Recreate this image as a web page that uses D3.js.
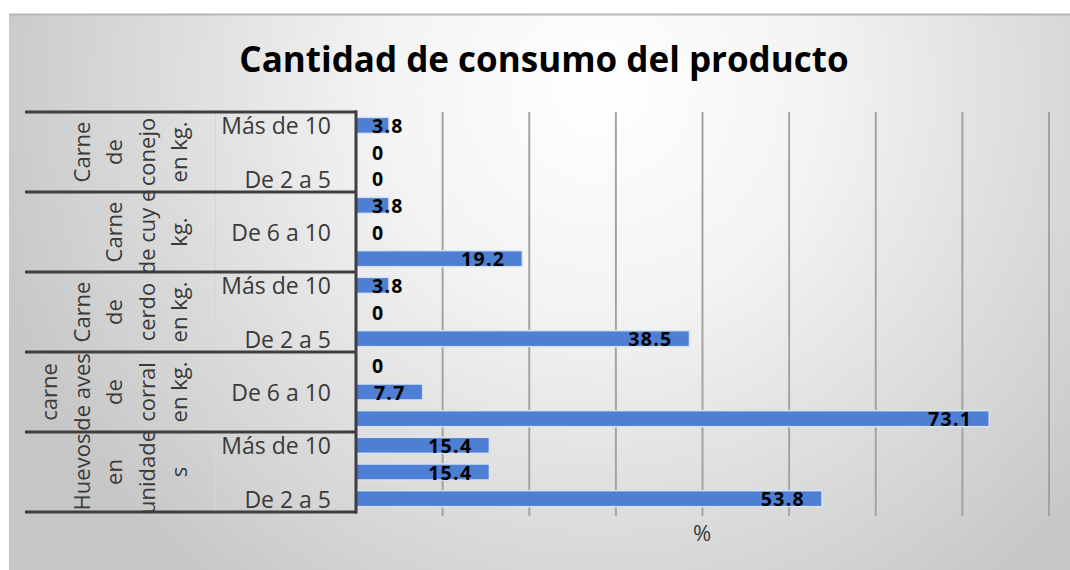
<!DOCTYPE html>
<html>
<head>
<meta charset="utf-8">
<script src="https://cdn.jsdelivr.net/npm/d3@7"></script>
<style>
  body { margin: 0; background: #fff; }
  svg text { font-family: "Open Sans", sans-serif; }
</style>
</head>
<body>
<script>
// categories, top to bottom as drawn
let groups = ["conejo", "cuy", "cerdo", "aves", "huevos"]
let groupLines = [
    ["Carne", "de", "conejo", "en kg."],
    ["Carne", "de cuy e", "kg."],
    ["Carne", "de", "cerdo", "en kg."],
    ["carne", "de aves", "de", "corral", "en kg."],
    ["Huevos", "en", "unidade", "s"]
]
let subCats = ["Más de 10", "De 6 a 10", "De 2 a 5"]
// % per group, same order as subCats
let conejo = [3.8, 0, 0]
let cuy = [3.8, 0, 19.2]
let cerdo = [3.8, 0, 38.5]
let aves = [0, 7.7, 73.1]
let huevos = [15.4, 15.4, 53.8]
let xTicks = [0, 10, 20, 30, 40, 50, 60, 70, 80]

let series = [conejo, cuy, cerdo, aves, huevos]
let rows = []
groups.forEach((g, gi) => {
    subCats.forEach((s, si) => {
        rows.push({ id: g + "-" + si, group: g, sub: s, value: series[gi][si] })
    })
})

let width = 1070
let height = 570

let svg = d3.select("body").append("svg")
    .attr("width", width)
    .attr("height", height)

//background
let defs = svg.append("defs")
let grad = defs.append("radialGradient")
    .attr("id", "bg")
    .attr("gradientUnits", "userSpaceOnUse")
    .attr("cx", 600).attr("cy", 90).attr("r", 640)
grad.append("stop").attr("offset", "0").attr("stop-color", "#ffffff")
grad.append("stop").attr("offset", "0.35").attr("stop-color", "#f3f3f3")
grad.append("stop").attr("offset", "1").attr("stop-color", "#c6c6c6")

svg.append("rect")
    .attr("x", 9).attr("y", 14)
    .attr("width", width - 9).attr("height", height - 14)
    .attr("fill", "url(#bg)")
svg.append("line")
    .attr("x1", 9).attr("x2", width)
    .attr("y1", 14.5).attr("y2", 14.5)
    .attr("stroke", "#b5b5b5").attr("stroke-width", 2)

//title
svg.append("text")
    .attr("x", 544).attr("y", 58)
    .attr("text-anchor", "middle")
    .attr("dominant-baseline", "central")
    .style("font-weight", "bold")
    .style("font-size", "35px")
    .attr("fill", "#000")
    .text("Cantidad de consumo del producto")

//scales
let x = d3.scaleLinear().domain([0, 80]).range([356, 1049])
let y = d3.scaleBand()
    .domain(rows.map(d => d.id))
    .range([112, 512])
    .paddingInner(0.4)
    .paddingOuter(0.2)
let yGroup = d3.scaleBand().domain(groups).range([112, 512])

//gridlines
svg.append("g")
    .selectAll("line")
    .data(xTicks.slice(1))
    .enter()
    .append("line")
    .attr("x1", d => x(d)).attr("x2", d => x(d))
    .attr("y1", 112).attr("y2", 516)
    .attr("stroke", "#a3a3a3")
    .attr("stroke-width", 2)

//bars
svg.append("g")
    .selectAll("rect")
    .data(rows)
    .enter()
    .append("rect")
    .attr("x", x(0))
    .attr("y", d => y(d.id))
    .attr("width", d => x(d.value) - x(0))
    .attr("height", y.bandwidth())
    .attr("fill", "#4f7fd2")
    .attr("stroke", d => d.value > 0 ? "#d4e4f6" : "none")
    .attr("stroke-width", 1.5)

//data labels
let labels = svg.append("g")
    .selectAll("text")
    .data(rows)
    .enter()
    .append("text")
    .attr("y", d => y(d.id) + y.bandwidth() / 2)
    .attr("dominant-baseline", "central")
    .style("font-weight", "bold")
    .style("font-size", "19.5px")
    .style("letter-spacing", "1.3px")
    .attr("fill", "#000")
    .text(d => d.value)
labels.each(function(d) {
    let w = this.getComputedTextLength()
    let left = Math.max(x(d.value) - 17 - w, x(0) + 16)
    d3.select(this).attr("x", left)
})

//category axis
let cat = svg.append("g")
cat.append("line")
    .attr("x1", 215.5).attr("x2", 215.5)
    .attr("y1", 112).attr("y2", 512)
    .attr("stroke", "#d6d6d6")
    .attr("stroke-width", 1)

cat.selectAll(".sep")
    .data(groups.concat(["end"]))
    .enter()
    .append("line")
    .attr("class", "sep")
    .attr("x1", 25).attr("x2", 357)
    .attr("y1", (d, i) => i < groups.length ? yGroup(d) : 512)
    .attr("y2", (d, i) => i < groups.length ? yGroup(d) : 512)
    .attr("stroke", "#3f3f3f")
    .attr("stroke-width", 3)

cat.append("line")
    .attr("x1", x(0)).attr("x2", x(0))
    .attr("y1", 110.5).attr("y2", 513.5)
    .attr("stroke", "#3f3f3f")
    .attr("stroke-width", 3)

//sub labels, every other one like the original
cat.selectAll(".sub")
    .data(rows.filter((d, i) => i % 2 == 0))
    .enter()
    .append("text")
    .attr("class", "sub")
    .attr("x", 331)
    .attr("y", d => y(d.id) + y.bandwidth() / 2)
    .attr("text-anchor", "end")
    .attr("dominant-baseline", "central")
    .style("font-size", "23px")
    .attr("fill", "#3a3a3a")
    .text(d => d.sub)

//group labels, rotated
groups.forEach((g, gi) => {
    let lines = groupLines[gi]
    let cy = yGroup(g) + yGroup.bandwidth() / 2
    cat.selectAll(".grp" + gi)
        .data(lines)
        .enter()
        .append("text")
        .attr("transform", (d, i) => {
            let cx = 178 - (lines.length - 1 - i) * 32.5
            return `translate(${cx},${cy}) rotate(-90)`
        })
        .attr("text-anchor", "middle")
        .attr("dominant-baseline", "central")
        .style("font-size", "22px")
        .attr("fill", "#3a3a3a")
        .text(d => d)
})

//axis title
svg.append("text")
    .attr("x", 702).attr("y", 532)
    .attr("text-anchor", "middle")
    .attr("dominant-baseline", "central")
    .style("font-size", "22px")
    .attr("fill", "#3a3a3a")
    .text("%")
</script>
</body>
</html>
